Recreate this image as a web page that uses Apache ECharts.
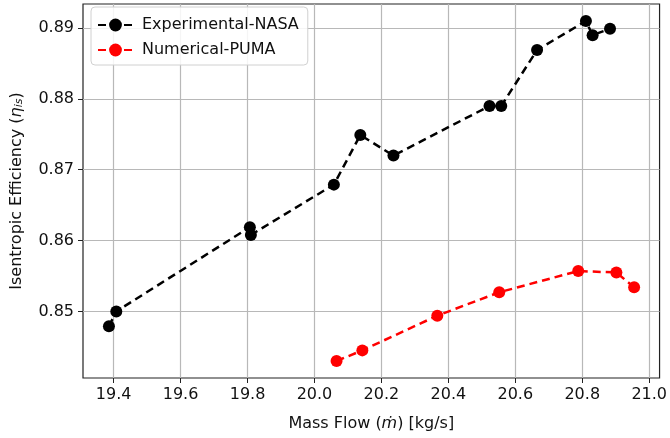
<!DOCTYPE html>
<html><head><meta charset="utf-8">
<script src="https://cdn.jsdelivr.net/npm/echarts@6/dist/echarts.min.js"></script>
<style>html,body{margin:0;padding:0;background:#fff}#c{width:670px;height:438px}</style>
</head><body><div id="c"></div>
<script>
var nasaX = [19.386, 19.408, 19.807, 19.810, 20.058, 20.137, 20.236, 20.523, 20.558, 20.665, 20.811, 20.831, 20.883];
var nasaY = [0.8479, 0.8500, 0.8619, 0.8608, 0.8679, 0.8749, 0.8720, 0.8790, 0.8790, 0.8869, 0.8910, 0.8890, 0.8899];
var pumaX = [20.066, 20.143, 20.367, 20.552, 20.788, 20.902, 20.955];
var pumaY = [0.8430, 0.8445, 0.8494, 0.8527, 0.8557, 0.8555, 0.8534];
var xTicks = [19.4, 19.6, 19.8, 20.0, 20.2, 20.4, 20.6, 20.8, 21.0];
var yTicks = [0.85, 0.86, 0.87, 0.88, 0.89];

function pairs(xs, ys){ return xs.map(function(x,i){return [x, ys[i]];}); }
var font = 'DejaVu Sans';
var fs = 16;
var chart = echarts.init(document.getElementById('c'), null, {renderer:'canvas'});
chart.setOption({
  animation:false,
  grid:{left:83, right:9, top:4, bottom:60, show:true, borderColor:'#222', borderWidth:1.2, backgroundColor:'transparent'},
  legend:{
    orient:'vertical', left:91, top:7, itemWidth:35, itemHeight:16, itemGap:9,
    backgroundColor:'rgba(255,255,255,0.85)', borderColor:'#d0d0d0', borderWidth:1, borderRadius:4,
    padding:[10,9,7,6],
    textStyle:{fontFamily:font, fontSize:fs, color:'#111', padding:[0,0,0,4]},
    data:['Experimental-NASA','Numerical-PUMA']
  },
  xAxis:{
    type:'value', min:19.3085, max:21.031,
    name:'Mass Flow ({i|ṁ}) [kg/s]', nameLocation:'middle', nameGap:38,
    nameTextStyle:{fontFamily:font, fontSize:fs, color:'#111', rich:{i:{fontFamily:font, fontStyle:'italic', fontSize:fs, color:'#111'}}},
    axisLine:{show:false},
    axisTick:{show:true, length:5, lineStyle:{color:'#222'}, customValues:xTicks},
    axisLabel:{fontFamily:font, fontSize:fs, color:'#111', margin:9, customValues:xTicks, formatter:function(v){return v.toFixed(1);}},
    splitLine:{show:true, lineStyle:{color:'#b8b8b8', width:1.2}, customValues:xTicks}
  },
  yAxis:{
    type:'value', min:0.8406, max:0.8934,
    name:'Isentropic Efficiency ({i|η}{s|is})', nameLocation:'middle', nameGap:58,
    nameTextStyle:{fontFamily:font, fontSize:fs, color:'#111', rich:{i:{fontFamily:font, fontStyle:'italic', fontSize:fs, color:'#111'}, s:{fontFamily:font, fontStyle:'italic', fontSize:11, color:'#111', verticalAlign:'bottom'}}},
    axisLine:{show:false},
    axisTick:{show:true, length:5, lineStyle:{color:'#222'}, customValues:yTicks},
    axisLabel:{fontFamily:font, fontSize:fs, color:'#111', margin:9, customValues:yTicks, formatter:function(v){return v.toFixed(2);}},
    splitLine:{show:true, lineStyle:{color:'#b8b8b8', width:1.2}, customValues:yTicks}
  },
  series:[
    {name:'Experimental-NASA', type:'line', data:pairs(nasaX,nasaY), symbol:'circle', symbolSize:12,
     itemStyle:{color:'#000'}, lineStyle:{color:'#000', width:2.5, type:[8,5]}},
    {name:'Numerical-PUMA', type:'line', data:pairs(pumaX,pumaY), symbol:'circle', symbolSize:12,
     itemStyle:{color:'#ff0000'}, lineStyle:{color:'#ff0000', width:2.5, type:[8,5]}}
  ]
});
</script></body></html>
